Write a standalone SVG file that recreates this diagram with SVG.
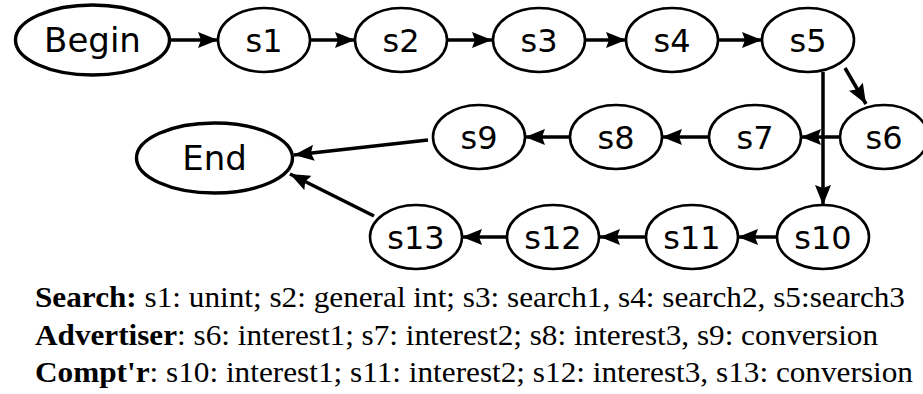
<svg xmlns="http://www.w3.org/2000/svg" width="923" height="394" viewBox="0 0 923 394">
<style>
.n ellipse{fill:#fff;stroke:#000;stroke-width:2.6}
.n.big ellipse{stroke-width:3.4}
.n text{font-family:"DejaVu Sans",sans-serif;font-size:32px;text-anchor:middle;fill:#000}
.n.big text{font-size:34px}
.e line{stroke:#000;stroke-width:3.5;marker-end:url(#ah)}
.cap{font-family:"Liberation Serif","Times New Roman",serif;font-size:30px;fill:#000}
.cap .b{font-weight:bold}
</style>
<defs>
<marker id="ah" markerUnits="userSpaceOnUse" markerWidth="21" markerHeight="16" refX="20" refY="8" orient="auto" viewBox="0 0 21 16">
<path d="M0,0 L20,8 L0,16 L3,8 z" fill="#000"/>
</marker>
</defs>
<g id="edges" class="e">
<line x1="170" y1="40" x2="218" y2="40"/>
<line x1="310" y1="40" x2="355" y2="40"/>
<line x1="447" y1="40" x2="492" y2="40"/>
<line x1="586" y1="40" x2="626" y2="40"/>
<line x1="719" y1="40" x2="762" y2="40"/>
<line x1="845" y1="68" x2="866" y2="104"/>
<line x1="840" y1="137" x2="801" y2="137"/>
<line x1="823" y1="72" x2="823" y2="205"/>
<line x1="708" y1="137" x2="662" y2="137"/>
<line x1="570" y1="137" x2="525" y2="137"/>
<line x1="428" y1="140" x2="294" y2="155"/>
<line x1="777" y1="237" x2="738" y2="237"/>
<line x1="646" y1="237" x2="600" y2="237"/>
<line x1="508" y1="237" x2="462" y2="237"/>
<line x1="374" y1="216" x2="290" y2="174"/>
</g>
<g id="Begin" class="n big"><ellipse cx="92.5" cy="40" rx="77" ry="35"/><text x="92.5" y="52">Begin</text></g>
<g id="s1" class="n"><ellipse cx="264" cy="40" rx="46" ry="32"/><text x="264" y="52">s1</text></g>
<g id="s2" class="n"><ellipse cx="401" cy="40" rx="46" ry="32"/><text x="401" y="52">s2</text></g>
<g id="s3" class="n"><ellipse cx="539" cy="40" rx="46" ry="32"/><text x="539" y="52">s3</text></g>
<g id="s4" class="n"><ellipse cx="672" cy="40" rx="46" ry="32"/><text x="672" y="52">s4</text></g>
<g id="s5" class="n"><ellipse cx="808" cy="40" rx="46" ry="32"/><text x="808" y="52">s5</text></g>
<g id="s6" class="n"><ellipse cx="884" cy="137" rx="44" ry="32"/><text x="884" y="149">s6</text></g>
<g id="s7" class="n"><ellipse cx="755" cy="137" rx="46" ry="32"/><text x="755" y="149">s7</text></g>
<g id="s8" class="n"><ellipse cx="616" cy="137" rx="46" ry="32"/><text x="616" y="149">s8</text></g>
<g id="s9" class="n"><ellipse cx="479" cy="137" rx="46" ry="32"/><text x="479" y="149">s9</text></g>
<g id="End" class="n big"><ellipse cx="214.5" cy="158" rx="78" ry="35"/><text x="214.5" y="170">End</text></g>
<g id="s10" class="n"><ellipse cx="823" cy="237" rx="46" ry="32"/><text x="823" y="249">s10</text></g>
<g id="s11" class="n"><ellipse cx="692" cy="237" rx="46" ry="32"/><text x="692" y="249">s11</text></g>
<g id="s12" class="n"><ellipse cx="553" cy="237" rx="46" ry="32"/><text x="553" y="249">s12</text></g>
<g id="s13" class="n"><ellipse cx="416" cy="237" rx="46" ry="32"/><text x="416" y="249">s13</text></g>
<g id="legend" class="cap">
<text x="35" y="307" textLength="870" lengthAdjust="spacingAndGlyphs"><tspan class="b">Search:</tspan> s1: unint; s2: general int; s3: search1, s4: search2, s5:search3</text>
<text x="35" y="345" textLength="843" lengthAdjust="spacingAndGlyphs"><tspan class="b">Advertiser</tspan>: s6: interest1; s7: interest2; s8: interest3, s9: conversion</text>
<text x="35" y="382" textLength="878" lengthAdjust="spacingAndGlyphs"><tspan class="b">Compt'r</tspan>: s10: interest1; s11: interest2; s12: interest3, s13: conversion</text>
</g>
</svg>
